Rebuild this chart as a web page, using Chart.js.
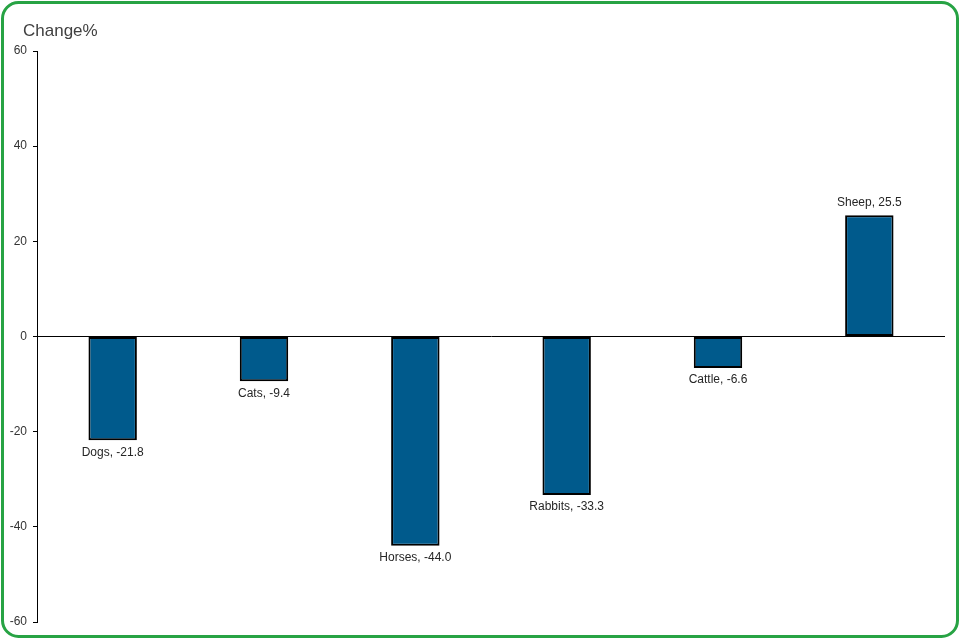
<!DOCTYPE html>
<html>
<head>
<meta charset="utf-8">
<script src="https://cdn.jsdelivr.net/npm/chart.js@4/dist/chart.umd.min.js"></script>
<style>
  html, body { margin: 0; padding: 0; background: #fff; }
  #wrap { width: 960px; height: 640px; position: relative; }
</style>
</head>
<body>
<div id="wrap"><canvas id="c" width="960" height="640"></canvas></div>
<script>
const categories = ["Dogs", "Cats", "Horses", "Rabbits", "Cattle", "Sheep"];
const changePct = [-21.8, -9.4, -44.0, -33.3, -6.6, 25.5];
const yTicks = [-60, -40, -20, 0, 20, 40, 60];
const yTitle = "Change%";

const framePlugin = {
  id: 'frame',
  beforeDraw(chart) {
    const ctx = chart.ctx;
    ctx.save();
    ctx.fillStyle = '#fff';
    ctx.fillRect(0, 0, chart.width, chart.height);
    ctx.restore();
  },
  afterDraw(chart) {
    const ctx = chart.ctx;
    ctx.save();
    ctx.strokeStyle = '#27a344';
    ctx.lineWidth = 3;
    ctx.beginPath();
    if (ctx.roundRect) ctx.roundRect(2.5, 2.5, chart.width - 5, chart.height - 6, 16);
    else ctx.rect(2.5, 2.5, chart.width - 5, chart.height - 6);
    ctx.stroke();
    ctx.fillStyle = '#404040';
    ctx.font = '17px "Liberation Sans", Arial, sans-serif';
    ctx.textBaseline = 'middle';
    ctx.textAlign = 'left';
    ctx.fillText(yTitle, 23, 31);
    ctx.restore();
  }
};

const labelPlugin = {
  id: 'barLabels',
  afterDatasetsDraw(chart) {
    const ctx = chart.ctx;
    const meta = chart.getDatasetMeta(0);
    ctx.save();
    ctx.fillStyle = '#262626';
    ctx.font = '12px "Liberation Sans", Arial, sans-serif';
    ctx.textAlign = 'center';
    ctx.textBaseline = 'middle';
    meta.data.forEach((bar, i) => {
      const v = changePct[i];
      const txt = categories[i] + ', ' + v.toFixed(1);
      const y = v >= 0 ? bar.y - 12 : bar.y + 12;
      ctx.fillText(txt, bar.x, y);
    });
    ctx.restore();
  }
};

new Chart(document.getElementById('c'), {
  type: 'bar',
  data: {
    labels: categories,
    datasets: [{
      data: changePct,
      backgroundColor: '#005a8c',
      borderColor: '#000',
      borderWidth: 2,
      borderSkipped: false,
      categoryPercentage: 1.0,
      barPercentage: 0.32
    }]
  },
  options: {
    responsive: false,
    animation: false,
    devicePixelRatio: 1,
    layout: { padding: { top: 51, bottom: 18, left: 0, right: 15 } },
    plugins: { legend: { display: false }, tooltip: { enabled: false }, title: { display: false } },
    scales: {
      x: {
        display: false
      },
      y: {
        min: -60, max: 60,
        afterBuildTicks(axis) { axis.ticks = yTicks.map(v => ({ value: v })); },
        afterFit(axis) { axis.width = 37; },
        border: { display: true, color: '#000', width: 1 },
        grid: {
          drawOnChartArea: true,
          drawTicks: true,
          tickLength: 4,
          tickColor: '#000',
          color: ctx => (ctx.tick && ctx.tick.value === 0) ? '#000' : 'rgba(0,0,0,0)',
          lineWidth: 1
        },
        ticks: {
          color: '#333',
          padding: 6,
          font: { family: '"Liberation Sans", Arial, sans-serif', size: 12 }
        }
      }
    }
  },
  plugins: [framePlugin, labelPlugin]
});
</script>
</body>
</html>
